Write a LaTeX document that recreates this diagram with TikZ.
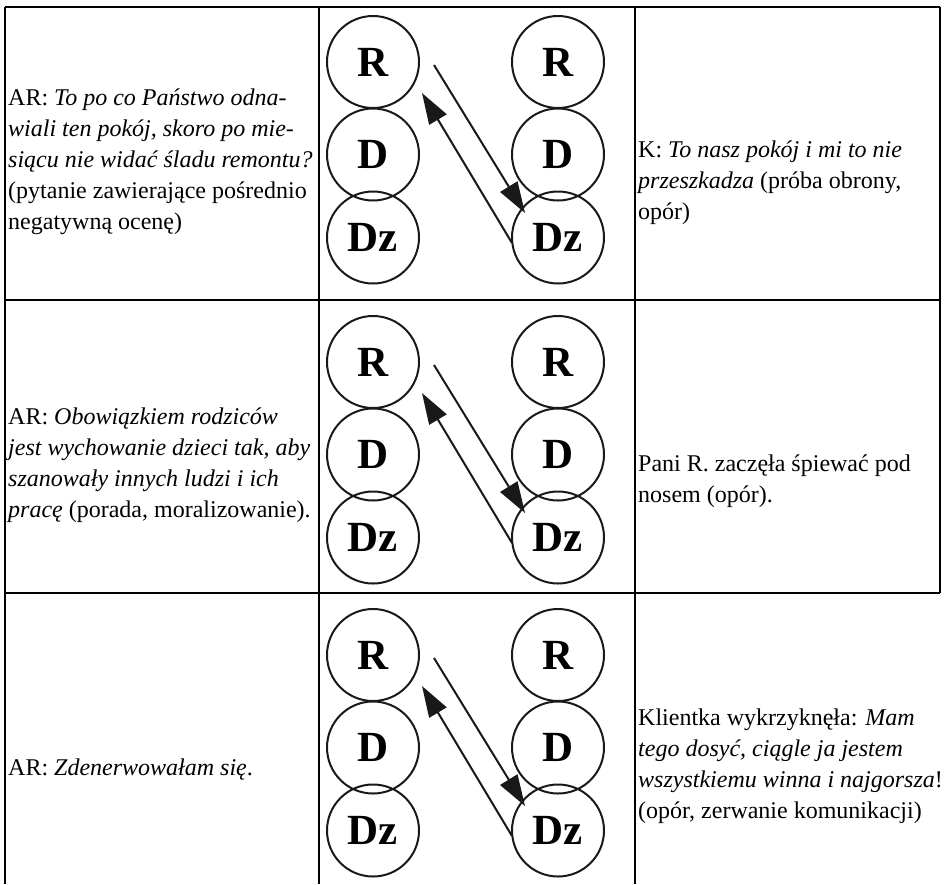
\documentclass[tikz,border=0pt]{standalone}
\usepackage{fontspec}
\setmainfont{Liberation Serif}
\usetikzlibrary{arrows.meta,calc}
\tikzset{
  ego/.style={draw=black!90,circle,line width=2pt,minimum size=92pt,inner sep=0pt,
    font=\fontsize{43}{43}\selectfont\bfseries},
  trans/.style={line width=2pt,black!90,-{Triangle[length=31pt,width=20pt]}},
  cell/.style={anchor=west,align=left,inner sep=0pt,font=\fontsize{24}{31}\selectfont},
  rule/.style={line width=2pt}
}

\begin{document}
\begin{tikzpicture}[x=1pt,y=-1pt]
            \useasboundingbox (0,0) rectangle (944,884);
            % table lines
            \draw[rule] (5,6.5)--(940,6.5);
            \draw[rule] (5,300)--(940,300);
            \draw[rule] (5,593)--(940,593);
            \draw[rule] (5,6.5)--(5,884);
            \draw[rule] (319,6.5)--(319,884);
            \draw[rule] (635,6.5)--(635,884);
            \draw[rule] (940,6.5)--(940,593);
            % row 1
            \node[ego] (R1l) at (373,62) {R};
            \node[ego] (D1l) at (373,154.5) {D};
            \node[ego] (Dz1l) at (373,237.5) {Dz};
            \node[ego] (R1r) at (558,62) {R};
            \node[ego] (D1r) at (558,154.5) {D};
            \node[ego] (Dz1r) at (558,237.5) {Dz};
            \draw[trans] ($(R1l)+(61,3)$)--($(Dz1r)+(-33,-24.5)$);
            \draw[trans] ($(Dz1r)+(-46,5.5)$)--($(R1l)+(49,31)$);
            \node[cell] (t1l) at (8,161.5) {AR: \textit{To po co Państwo odna-}\\
              \textit{wiali ten pokój, skoro po mie-}\\
              \textit{siącu nie widać śladu remontu?}\\
              (pytanie zawierające pośrednio\\
              negatywną ocenę)};
            \node[cell] (t1r) at (638,183) {K: \textit{To nasz pokój i mi to nie}\\
              \textit{przeszkadza} (próba obrony,\\
              opór)};
            % row 2
            \node[ego] (R2l) at (373,362) {R};
            \node[ego] (D2l) at (373,454.5) {D};
            \node[ego] (Dz2l) at (373,537.5) {Dz};
            \node[ego] (R2r) at (558,362) {R};
            \node[ego] (D2r) at (558,454.5) {D};
            \node[ego] (Dz2r) at (558,537.5) {Dz};
            \draw[trans] ($(R2l)+(61,3)$)--($(Dz2r)+(-33,-24.5)$);
            \draw[trans] ($(Dz2r)+(-46,5.5)$)--($(R2l)+(49,31)$);
            \node[cell] (t2l) at (8,465) {AR: \textit{Obowiązkiem rodziców}\\
              \textit{jest wychowanie dzieci tak, aby}\\
              \textit{szanowały innych ludzi i ich}\\
              \textit{pracę} (porada, moralizowanie).};
            \node[cell] (t2r) at (638,481) {Pani R. zaczęła śpiewać pod\\
              nosem (opór).};
            % row 3
            \node[ego] (R3l) at (373,655) {R};
            \node[ego] (D3l) at (373,747.5) {D};
            \node[ego] (Dz3l) at (373,830.5) {Dz};
            \node[ego] (R3r) at (558,655) {R};
            \node[ego] (D3r) at (558,747.5) {D};
            \node[ego] (Dz3r) at (558,830.5) {Dz};
            \draw[trans] ($(R3l)+(61,3)$)--($(Dz3r)+(-33,-24.5)$);
            \draw[trans] ($(Dz3r)+(-46,5.5)$)--($(R3l)+(49,31)$);
            \node[cell] (t3l) at (8,770) {AR: \textit{Zdenerwowałam się}.};
            \node[cell] (t3r) at (638,766) {Klientka wykrzyknęła: \textit{Mam}\\
              \textit{tego dosyć, ciągle ja jestem}\\
              \textit{wszystkiemu winna i najgorsza}!\\
              (opór, zerwanie komunikacji)};
\end{tikzpicture}
\end{document}
